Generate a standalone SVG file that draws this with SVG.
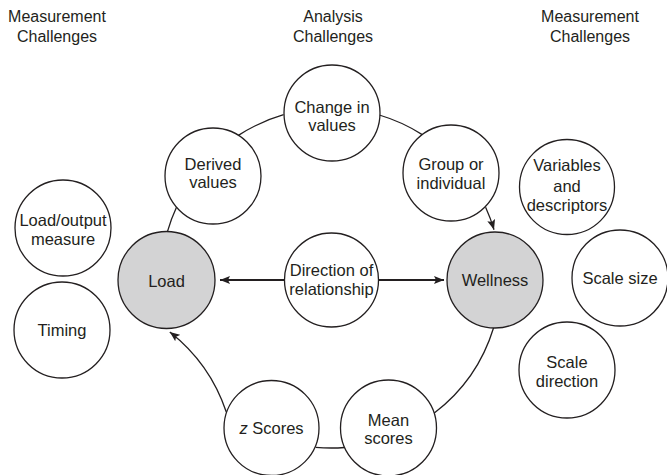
<svg xmlns="http://www.w3.org/2000/svg" width="667" height="475" viewBox="0 0 667 475">
  <style>
    .node { fill: #ffffff; stroke: #231f20; stroke-width: 1.3; }
    .hub { fill: #d3d3d4; stroke: #231f20; stroke-width: 1.3; }
    .lbl { font-family: "Liberation Sans", Arial, Helvetica, sans-serif; font-size: 16.5px; fill: #231f20; text-anchor: middle; }
    .head { font-family: "Liberation Sans", Arial, Helvetica, sans-serif; font-size: 16px; fill: #231f20; text-anchor: middle; }
    .ring { fill: none; stroke: #231f20; stroke-width: 1.3; }
    .link { fill: none; stroke: #231f20; stroke-width: 2; }
  </style>
  <defs>
    <marker id="arrow" viewBox="0 0 10 8" refX="10" refY="4" markerWidth="10" markerHeight="8" markerUnits="userSpaceOnUse" orient="auto">
      <path d="M0,0 L10,4 L0,8 L2,4 Z" fill="#231f20"/>
    </marker>
  </defs>

  <rect width="667" height="475" fill="#ffffff"/>

  <!-- column headings -->
  <g id="heading-left">
    <text class="head" x="57" y="22">Measurement</text>
    <text class="head" x="57" y="42">Challenges</text>
  </g>
  <g id="heading-middle">
    <text class="head" x="333" y="22">Analysis</text>
    <text class="head" x="333" y="42">Challenges</text>
  </g>
  <g id="heading-right">
    <text class="head" x="590" y="22">Measurement</text>
    <text class="head" x="590" y="42">Challenges</text>
  </g>

  <!-- connectors: arcs of the analysis ring (centre 331,278 radius 170) and the two direction arrows -->
  <g id="connectors">
    <path class="ring" d="M167.6,231.1 A170,170 0 0 1 176.6,207.0"/>
    <path class="ring" d="M238.4,135.4 A170,170 0 0 1 283.6,114.7"/>
    <path class="ring" d="M379.3,115.0 A170,170 0 0 1 423.1,135.1"/>
    <path class="ring" d="M485.6,207.2 A170,170 0 0 1 494.0,229.7" marker-end="url(#arrow)"/>
    <path class="ring" d="M493.6,327.7 A170,170 0 0 1 434.3,413.0"/>
    <path class="ring" d="M344.6,447.5 A170,170 0 0 1 315.6,447.3"/>
    <path class="ring" d="M226.3,412.0 A170,170 0 0 0 169.8,331.9" marker-end="url(#arrow)"/>
    <path class="link" d="M285,280 L220,280" marker-end="url(#arrow)"/>
    <path class="link" d="M378,280 L444,280" marker-end="url(#arrow)"/>
  </g>

  <!-- left measurement nodes -->
  <g id="load-output-measure">
    <circle class="node" cx="63" cy="228" r="48"/>
    <text class="lbl" x="63" y="226">Load/output</text>
    <text class="lbl" x="63" y="244.5">measure</text>
  </g>
  <g id="timing">
    <circle class="node" cx="62" cy="330" r="48"/>
    <text class="lbl" x="62" y="336">Timing</text>
  </g>

  <!-- analysis ring nodes -->
  <g id="change-in-values">
    <circle class="node" cx="332" cy="113" r="48"/>
    <text class="lbl" x="332" y="112.5">Change in</text>
    <text class="lbl" x="332" y="131">values</text>
  </g>
  <g id="derived-values">
    <circle class="node" cx="213" cy="176" r="48"/>
    <text class="lbl" x="213" y="169.5">Derived</text>
    <text class="lbl" x="213" y="187.5">values</text>
  </g>
  <g id="group-or-individual">
    <circle class="node" cx="451" cy="173" r="48"/>
    <text class="lbl" x="451" y="170">Group or</text>
    <text class="lbl" x="451" y="188.5">individual</text>
  </g>
  <g id="load">
    <circle class="hub" cx="166.5" cy="280" r="48.5"/>
    <text class="lbl" x="166.5" y="286.5">Load</text>
  </g>
  <g id="direction-of-relationship">
    <circle class="node" cx="331.5" cy="280" r="47"/>
    <text class="lbl" x="331.5" y="276">Direction of</text>
    <text class="lbl" x="331.5" y="295">relationship</text>
  </g>
  <g id="wellness">
    <circle class="hub" cx="495" cy="280" r="48"/>
    <text class="lbl" x="495" y="285.5">Wellness</text>
  </g>
  <g id="z-scores">
    <circle class="node" cx="271.5" cy="428" r="47.5"/>
    <text class="lbl" x="271.5" y="434"><tspan font-style="italic">z</tspan> Scores</text>
  </g>
  <g id="mean-scores">
    <circle class="node" cx="388.5" cy="428" r="48"/>
    <text class="lbl" x="388.5" y="425.5">Mean</text>
    <text class="lbl" x="388.5" y="443.5">scores</text>
  </g>

  <!-- right measurement nodes -->
  <g id="variables-and-descriptors">
    <circle class="node" cx="567" cy="187" r="47.5"/>
    <text class="lbl" x="567" y="171">Variables</text>
    <text class="lbl" x="567" y="191.5">and</text>
    <text class="lbl" x="567" y="211">descriptors</text>
  </g>
  <g id="scale-size">
    <circle class="node" cx="620" cy="278" r="48"/>
    <text class="lbl" x="620" y="284">Scale size</text>
  </g>
  <g id="scale-direction">
    <circle class="node" cx="567" cy="370" r="48"/>
    <text class="lbl" x="567" y="367.5">Scale</text>
    <text class="lbl" x="567" y="386.5">direction</text>
  </g>
</svg>
